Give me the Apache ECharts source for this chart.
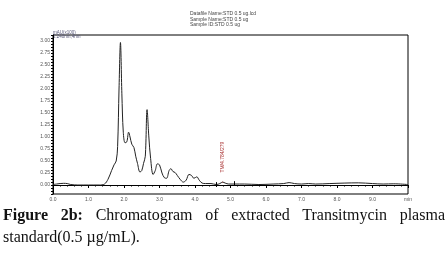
<!DOCTYPE html>
<html>
<head>
<meta charset="utf-8">
<script src="https://cdn.jsdelivr.net/npm/echarts@6/dist/echarts.min.js"></script>
<style>
  html, body { margin: 0; padding: 0; background: #fff; }
  #chart { position: absolute; left: 0; top: 0; width: 448px; height: 261px; }
  #caption {
    position: absolute; left: 3px; right: 3px; top: 204px;
    font-family: "Liberation Serif", "DejaVu Serif", serif;
    font-size: 16px; line-height: 22px; color: #111;
    text-align: justify;
  }
</style>
</head>
<body>
<div id="chart"></div>
<div id="caption"><b>Figure 2b:</b> Chromatogram of extracted Transitmycin plasma standard(0.5 µg/mL).</div>
<script>
// retention time (min)
var times = [0, 0.1, 0.2, 0.3, 0.4, 0.5, 0.7, 1.0, 1.3, 1.45,
  1.55, 1.65, 1.72, 1.78, 1.82, 1.86, 1.9, 1.94, 1.98, 2.03,
  2.08, 2.13, 2.17, 2.22, 2.28, 2.33, 2.38, 2.45, 2.5, 2.55,
  2.6, 2.65, 2.7, 2.75, 2.82, 2.88, 2.94, 3.0, 3.07, 3.14,
  3.2, 3.27, 3.32, 3.38, 3.44, 3.5, 3.58, 3.67, 3.75, 3.83,
  3.9, 3.97, 4.05, 4.12, 4.2, 4.3, 4.45, 4.6, 4.7, 4.78,
  4.85, 4.95, 5.1, 5.4, 5.8, 6.2, 6.5, 6.65, 6.8, 7.0,
  7.2, 7.4, 7.8, 8.2, 8.6, 9.0, 9.3, 9.6, 10.0]
// absorbance mAU(x100)
var signal = [0.01, 0.02, 0.03, 0.035, 0.03, 0.01, 0, 0, 0, 0.02,
  0.12, 0.3, 0.42, 0.5, 0.8, 2.0, 2.97, 1.9, 1.1, 0.88,
  0.9, 1.1, 1.0, 0.85, 0.78, 0.6, 0.45, 0.27, 0.3, 0.45,
  0.6, 1.57, 1.0, 0.55, 0.22, 0.3, 0.44, 0.42, 0.25, 0.15,
  0.14, 0.3, 0.34, 0.28, 0.26, 0.2, 0.12, 0.06, 0.1, 0.22,
  0.2, 0.14, 0.17, 0.1, 0.04, 0.03, 0.03, 0.01, 0.03, 0.06,
  0.04, 0.02, 0.02, 0.02, 0.01, 0.02, 0.03, 0.05, 0.03, 0.02,
  0.03, 0.02, 0.03, 0.04, 0.045, 0.03, 0.02, 0.025, 0.01]
var xTicks = ['0.0', '1.0', '2.0', '3.0', '4.0', '5.0', '6.0', '7.0', '8.0', '9.0', 'min']
var headerLines = ['Datafile Name:STD 0.5 ug.lcd', 'Sample Name:STD 0.5 ug', 'Sample ID:STD 0.5 ug']
var peakLabel = 'TM/4.784/279'
var peakTime = 4.78, peakVal = 0.06
var integStart = 4.6, integEnd = 5.1

var points = []
for (var i = 0; i < times.length; i++) points.push([times[i], signal[i]])

var chart = echarts.init(document.getElementById('chart'))
var small = { fontFamily: 'Liberation Sans', fontSize: 5, color: '#555' }
chart.setOption({
  animation: false,
  grid: { left: 53, right: 40, top: 35, bottom: 67, show: true, borderColor: '#000', borderWidth: 1 },
  graphic: [
    { type: 'text', left: 190, top: 11, style: { text: headerLines.join('\n'), font: '5px "Liberation Sans"', lineHeight: 5.5, fill: '#444' } },
    { type: 'text', left: 53, top: 30, style: { text: 'mAU(x100)\n2:240nm,4nm', font: '4.5px "Liberation Sans"', lineHeight: 4, fill: '#557' } }
  ],
  xAxis: {
    type: 'value', min: 0, max: 10, interval: 1,
    axisLine: { lineStyle: { color: '#000', width: 1 } },
    axisTick: { length: 3, lineStyle: { color: '#000' } },
    minorTick: { show: true, splitNumber: 5, length: 1.5, lineStyle: { color: '#000' } },
    splitLine: { show: false },
    axisLabel: Object.assign({ margin: 3, formatter: function (v) { return xTicks[Math.round(v)] } }, small)
  },
  yAxis: {
    type: 'value', min: -0.1875, max: 3.125, interval: 0.0625,
    axisLine: { show: true, lineStyle: { color: '#000', width: 1 } },
    axisTick: { show: true, length: 2, lineStyle: { color: '#000' } },
    splitLine: { show: false },
    axisLabel: Object.assign({ margin: 3, formatter: function (v) {
      var r = Math.round(v / 0.25)
      if (Math.abs(v - r * 0.25) > 1e-6 || v < -1e-6 || v > 3.01) return ''
      return v.toFixed(2)
    } }, small)
  },
  series: [{
    type: 'line', data: points, smooth: 0.35, symbol: 'none',
    lineStyle: { color: '#222', width: 1 },
    markLine: {
      silent: true, symbol: 'none', label: { show: false },
      lineStyle: { color: '#000', type: 'solid', width: 1 },
      data: [
        [{ coord: [integStart, -0.04] }, { coord: [integStart, 0.06] }],
        [{ coord: [integEnd, -0.02] }, { coord: [integEnd, 0.08] }]
      ]
    },
    markPoint: {
      symbol: 'circle', symbolSize: 1,
      itemStyle: { color: '#a33' },
      data: [{ coord: [peakTime, peakVal] }],
      label: {
        show: true, rotate: 90, position: 'top', distance: 9,
        align: 'left', verticalAlign: 'middle',
        formatter: peakLabel, fontSize: 5, fontFamily: 'Liberation Sans', color: '#a33'
      }
    }
  }]
})
</script>
</body>
</html>
